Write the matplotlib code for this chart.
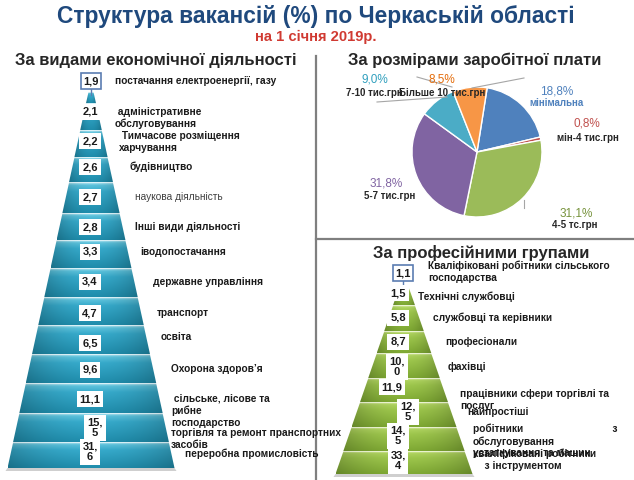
import matplotlib.pyplot as plt
import numpy as np
from matplotlib import font_manager
from matplotlib.colors import LinearSegmentedColormap
from matplotlib.patches import Polygon

# ---- data ----
econ_values = [1.9, 2.1, 2.2, 2.6, 2.7, 2.8, 3.3, 3.4, 4.7, 6.5, 9.6, 11.1, 15.5, 31.6]
econ_labels = [
    "постачання електроенергії, газу",
    " адміністративне\nобслуговування",
    " Тимчасове розміщення\nхарчування",
    "будівництво",
    "наукова діяльність",
    "Інші види діяльності",
    "іводопостачання",
    "державне управління",
    "транспорт",
    "освіта",
    "Охорона здоров’я",
    " сільське, лісове та\nрибне\nгосподарство",
    "торгівля та ремонт пранспортних\nзасобів",
    "переробна промисловість",
]

wage_values = [18.8, 0.8, 31.1, 31.8, 9.0, 8.5]
wage_labels = ["мінімальна", "мін-4 тис.грн", "4-5 тс.грн", "5-7 тис.грн",
               "7-10 тис.грн", "Більше 10 тис.грн"]

prof_values = [1.1, 1.5, 5.8, 8.7, 10.0, 11.9, 12.5, 14.5, 33.4]
prof_labels = [
    "Кваліфіковані робітники сільського\nгосподарства",
    "Технічні службовці",
    "службовці та керівники",
    "професіонали",
    "фахівці",
    "працівники сфери торгівлі та\nпослуг",
    "найпростіші",
    "робітники" + " " * 31 + "з\nобслуговування\nустаткування та машин",
    "кваліфіковані робітники\n    з інструментом",
]

# ---- layout (pixel coords, y down) ----
econ_bounds = [92, 103, 130, 157, 182, 213, 240, 268, 297, 325, 354, 383, 413, 442, 468]
econ_box = [(91, 81), (90, 112), (90, 141), (90, 167), (90, 197), (90, 227), (90, 252),
            (90, 282), (90, 313), (90, 343), (90, 370), (90, 399), (95, 428), (90, 452)]
econ_wrap = {12, 13}
econ_text = [(115, 81), (115, 118), (119, 142), (130, 167), (135, 197), (135, 227), (140, 252),
             (153, 282), (157, 313), (161, 337), (171, 369), (171, 411), (171, 439), (185, 454)]

prof_bounds = [288, 305, 331, 353, 378, 402, 427, 451, 474]
prof_box = [(403, 273), (398, 293), (398, 318), (398, 342), (397, 367), (392, 387),
            (408, 412), (398, 436), (398, 461)]
prof_wrap = {4, 6, 7, 8}
prof_text = [(428, 272), (418, 297), (433, 318), (445, 342), (448, 367), (460, 400),
             (467, 412), (473, 441), (473, 460)]

wage_colors = ["#4F81BD", "#C0504D", "#9BBB59", "#8064A2", "#4BACC6", "#F79646"]
wage_pct_colors = ["#4F81BD", "#C0504D", "#77933C", "#8064A2", "#31A0BE", "#E46C0A"]
wage_pct_xy = [(557, 91), (587, 123), (576, 213), (386, 183), (375, 80), (442, 80)]
wage_lab_xy = [(557, 103), (588, 138), (575, 225), (390, 196), (374, 93), (442, 93)]

DARK = "#1a1a1a"
names = {f.name for f in font_manager.fontManager.ttflist}
NARROW = "Liberation Sans Narrow" if "Liberation Sans Narrow" in names else "Liberation Sans"
hs = 1.0 if NARROW == "Liberation Sans Narrow" else 0.82

plt.rcParams["font.family"] = ["Liberation Sans", "DejaVu Sans"]

fig = plt.figure(figsize=(6.34, 4.8), dpi=100, facecolor="white")

# pie first, so the text layer sits above it
pcx, pcy, r = 477, 152, 65
pax = fig.add_axes([(pcx - r) / 634, (480 - pcy - r) / 480, 2 * r / 634, 2 * r / 480])
pax.pie(wage_values, colors=wage_colors, startangle=81, counterclock=False,
        wedgeprops=dict(edgecolor="white", linewidth=1))
pax.set_xlim(-1, 1)
pax.set_ylim(-1, 1)
pax.axis("off")
pax.set_zorder(0)

ax = fig.add_axes([0, 0, 1, 1])
ax.set_zorder(1)
ax.patch.set_visible(False)


def fmt(v, wrap=False):
    s = f"{v:.1f}".replace(".", ",")
    return s.replace(",", ",\n") if wrap else s


def draw_pyramid(bounds, cx, y0, k, stops):
    cmap = LinearSegmentedColormap.from_list("p", stops)
    v = np.linspace(0, 1, 80)[:, None]
    h = np.linspace(-1, 1, 80)[None, :]
    shade = 1 - 0.2 * h ** 2
    img = np.clip(cmap(v)[..., :3] * shade[..., None], 0, 1)
    for yt, yb in zip(bounds[:-1], bounds[1:]):
        ht, hb = k * (yt - y0), k * (yb - y0)
        pts = [(cx - ht, yt + 0.5), (cx + ht, yt + 0.5), (cx + hb, yb), (cx - hb, yb)]
        poly = Polygon(pts, closed=True, fc="none", ec="none")
        ax.add_patch(poly)
        im = ax.imshow(img, extent=(cx - hb, cx + hb, yb, yt), aspect="auto",
                       interpolation="bilinear", zorder=2)
        im.set_clip_path(poly)
    hb = k * (bounds[-1] - y0)
    ax.add_patch(Polygon([(cx - hb, bounds[-1]), (cx + hb, bounds[-1]),
                          (cx + hb + 2, bounds[-1] + 3), (cx - hb - 2, bounds[-1] + 3)],
                         fc="#cfcfcf", ec="none", zorder=1))


def draw_values(values, boxes, wrap, texts, labels, top_color):
    for i, (v, (bx, by), (tx, ty), lab) in enumerate(zip(values, boxes, texts, labels)):
        ec = top_color if i == 0 else "none"
        ax.text(bx, by, fmt(v, i in wrap), ha="center", va="center", fontsize=8,
                fontweight="bold", color=DARK, linespacing=1.05, zorder=5,
                bbox=dict(boxstyle="square,pad=0.25", fc="white", ec=ec, lw=1.2))
        weight = "normal" if lab == "наукова діяльність" else "bold"
        color = "#404040" if weight == "normal" else DARK
        ax.text(tx, ty, lab, ha="left", va="center", fontsize=7.3, fontweight=weight,
                color=color, linespacing=1.2, zorder=5)


# pyramids
draw_pyramid(econ_bounds, 91, 80, 83.5 / 388,
             [(0, "#c4ecf6"), (0.09, "#5cc2dc"), (0.3, "#36aacb"), (1, "#1f8cab")])
draw_pyramid(prof_bounds, 404, 273, 68.5 / 201,
             [(0, "#e2f0b4"), (0.09, "#aed35e"), (0.3, "#9dc64c"), (1, "#7ea833")])
ax.plot([91, 91], [89, 95], color="#5B7DB1", lw=1, zorder=4)
ax.plot([403, 403], [281, 290], color="#5B7DB1", lw=1, zorder=4)
draw_values(econ_values, econ_box, econ_wrap, econ_text, econ_labels, "#5B7DB1")
draw_values(prof_values, prof_box, prof_wrap, prof_text, prof_labels, "#5B7DB1")

# titles
ax.text(316, 17, "Структура вакансій (%) по Черкаській області", ha="center", va="center",
        fontsize=20 * hs, fontweight="bold", color="#1F497D", family=NARROW)
ax.text(316, 37, "на 1 січня 2019р.", ha="center", va="center",
        fontsize=13 * hs, fontweight="bold", color="#D03A32", family=NARROW)
ax.text(156, 61, "За видами економічної діяльності", ha="center", va="center",
        fontsize=14.6 * hs, fontweight="bold", color="#262626", family=NARROW)
ax.text(475, 60, "За розмірами заробітної плати", ha="center", va="center",
        fontsize=14.6 * hs, fontweight="bold", color="#262626", family=NARROW)
ax.text(481, 253, "За професійними групами", ha="center", va="center",
        fontsize=14.6 * hs, fontweight="bold", color="#262626", family=NARROW)

# dividers
ax.plot([316, 316], [56, 480], color="#7f7f7f", lw=1.6, zorder=3)
ax.plot([316, 634], [239, 239], color="#7f7f7f", lw=1.6, zorder=3)

# pie leader lines
for (x0, y0_), (x1, y1) in [((417, 77), (452, 87)), ((472, 88), (524, 78)),
                            ((377, 102), (447, 97)), ((524, 200), (524, 208))]:
    ax.plot([x0, x1], [y0_, y1], color="#a6a6a6", lw=0.8, zorder=1)

# pie labels
for v, lab, pc, (px, py), (lx, ly) in zip(wage_values, wage_labels, wage_pct_colors,
                                          wage_pct_xy, wage_lab_xy):
    ax.text(px, py, fmt(v) + "%", ha="center", va="center", fontsize=8.5, color=pc, zorder=5)
    lc = pc if lab == "мінімальна" else "#262626"
    ax.text(lx, ly, lab, ha="center", va="center", fontsize=7, fontweight="bold",
            color=lc, zorder=5)

ax.set_xlim(0, 634)
ax.set_ylim(480, 0)
ax.axis("off")

fig.savefig("out.png", dpi=100, facecolor="white")
